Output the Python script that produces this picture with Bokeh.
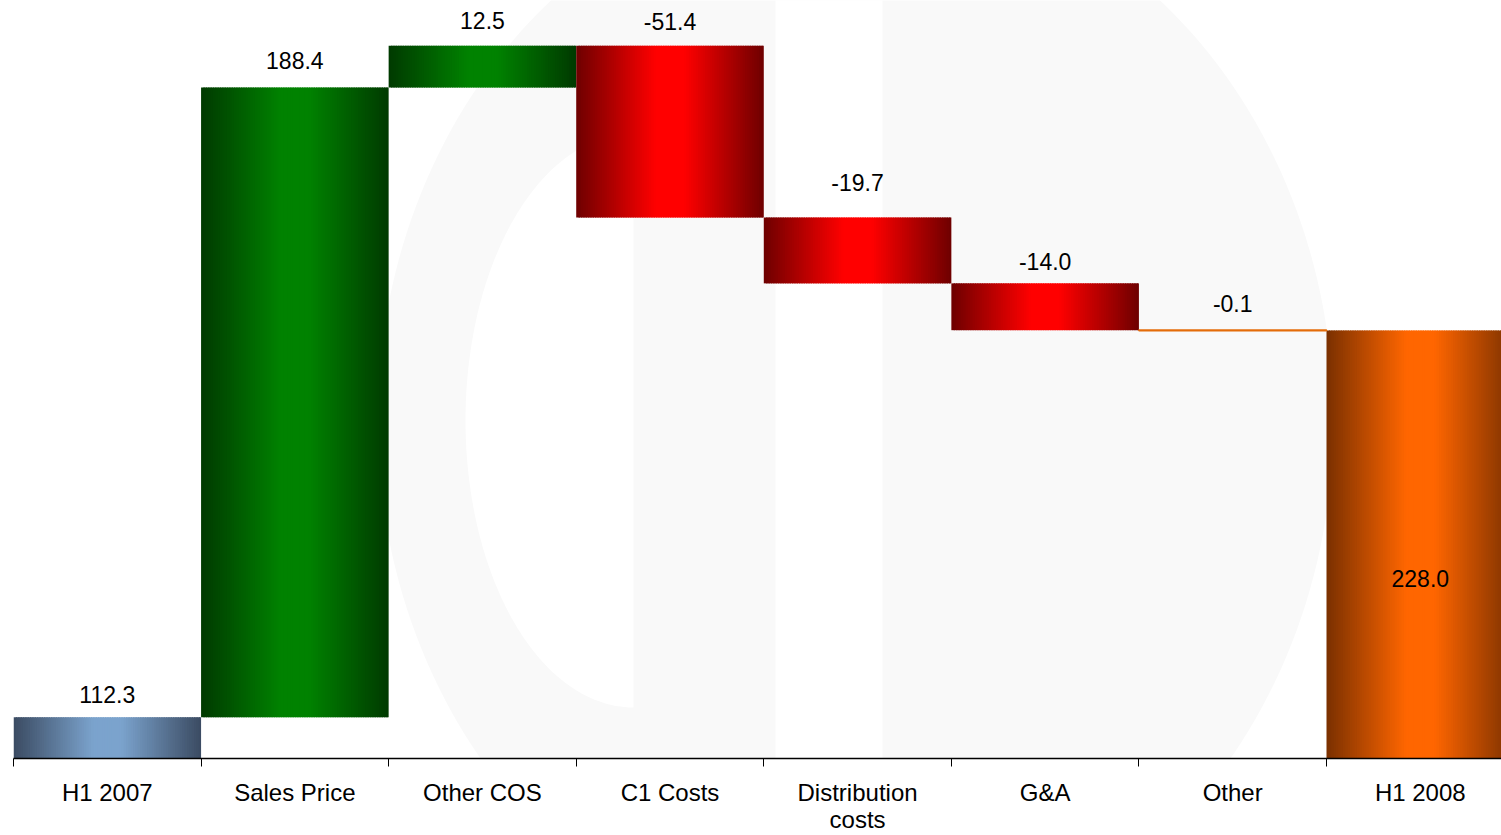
import numpy as np
from bokeh.plotting import figure
from bokeh.models import Range1d, FixedTicker, ColumnDataSource
from bokeh.core.properties import value
from bokeh.embed import file_html
from bokeh.resources import INLINE

# ---------------- data ----------------
categories = ["H1 2007", "Sales Price", "Other COS", "C1 Costs",
              "Distribution\ncosts", "G&A", "Other", "H1 2008"]
start_total = 112.3
changes = [188.4, 12.5, -51.4, -19.7, -14.0, -0.1]
end_total = 228.0
value_labels = ["112.3", "188.4", "12.5", "-51.4", "-19.7", "-14.0", "-0.1", "228.0"]

# ---------------- style ----------------
Y_MIN, Y_MAX = 100, 326.7
X_MIN, X_MAX = -0.5, 7.433
FRAME_L, FRAME_W, FRAME_H = 13, 1488, 758
label_gap_px = [23, 27, 25, 24, 35, 22, 27, -248]   # label centre above bar top (px)
grad = {
    "start": ("#3b4b62", "#7ba3cd"),
    "inc": ("#003a00", "#008200"),
    "dec": ("#6e0000", "#ff0000"),
    "end": ("#7a3000", "#ff6600"),
}
N_STRIPS = 80
FONT = "Liberation Sans"

# ---------------- bar geometry from data ----------------
kinds, bottoms, tops = [], [], []
kinds.append("start"); bottoms.append(0.0); tops.append(start_total)
running = start_total
for c in changes:
    kinds.append("inc" if c >= 0 else "dec")
    bottoms.append(min(running, running + c))
    tops.append(max(running, running + c))
    running += c
kinds.append("end"); bottoms.append(0.0); tops.append(end_total)
xs = list(range(len(categories)))


def hex2rgb(h):
    h = h.lstrip("#")
    return np.array([int(h[i:i + 2], 16) for i in (0, 2, 4)], dtype=float)


def mix(a, b, t):
    c = hex2rgb(a) * (1 - t) + hex2rgb(b) * t
    return "#%02x%02x%02x" % tuple(int(round(v)) for v in c)


L, R, T, B, C = [], [], [], [], []
w = 1.0
for x, k, b, t in zip(xs, kinds, bottoms, tops):
    edge, centre = grad[k]
    left = x - w / 2
    sw = w / N_STRIPS
    for i in range(N_STRIPS):
        pos = (i + 0.5) / N_STRIPS
        d = 1 - abs(pos - 0.5) * 2
        tt = min(1.0, d / 0.85)
        L.append(left + i * sw)
        R.append(left + (i + 1) * sw + (sw * 0.6 if i < N_STRIPS - 1 else 0))
        T.append(t)
        B.append(b)
        C.append(mix(edge, centre, tt))
strips = ColumnDataSource(dict(left=L, right=R, top=T, bottom=B, color=C))

p = figure(width=1501, height=835, x_range=Range1d(X_MIN, X_MAX), y_range=Range1d(Y_MIN, Y_MAX),
           output_backend="svg", toolbar_location=None, y_axis_location=None,
           min_border_left=FRAME_L, min_border_right=0, min_border_top=0, min_border_bottom=77)
p.grid.visible = False
p.outline_line_color = None
p.background_fill_color = "white"
p.border_fill_color = "white"


# ---------------- faint watermark ----------------
def px2x(px):
    return X_MIN + (px - FRAME_L) / FRAME_W * (X_MAX - X_MIN)


def py2y(py):
    return Y_MAX - py / FRAME_H * (Y_MAX - Y_MIN)


ang = np.linspace(0, 2 * np.pi, 240)
circ_x = [px2x(v) for v in 855 + 478 * np.cos(ang)]
circ_y = [py2y(v) for v in 420 + 545 * np.sin(ang)]
ang2 = np.linspace(np.pi / 2, 3 * np.pi / 2, 120)
half_x = [px2x(v) for v in 633 + 168 * np.cos(ang2)]
half_y = [py2y(v) for v in 420 + 287 * np.sin(ang2)]
p.patch(circ_x, circ_y, fill_color="#f9f9f9", line_color=None)
p.patch(half_x, half_y, fill_color="#ffffff", line_color=None)
p.quad(left=[px2x(775)], right=[px2x(882)], top=[Y_MAX + 50], bottom=[Y_MIN - 50],
       fill_color="#ffffff", line_color=None)

# ---------------- bars ----------------
p.quad(left="left", right="right", top="top", bottom="bottom", fill_color="color",
       line_color=None, source=strips)

tiny = [i for i, (b, t) in enumerate(zip(bottoms, tops)) if (t - b) < 0.5]
p.quad(left=[xs[i] - w / 2 for i in tiny], right=[xs[i] + w / 2 for i in tiny],
       top=[tops[i] for i in tiny], bottom=[bottoms[i] for i in tiny],
       fill_color=None, line_color="#e46c0a", line_width=2)

# ---------------- value labels ----------------
p.text(x=xs, y=tops, text=value_labels, y_offset=[-g for g in label_gap_px],
       text_font=value(FONT), text_font_size="23px", text_align="center",
       text_baseline="middle", text_color="#000000")

# ---------------- axis ----------------
ax = p.xaxis[0]
ax.ticker = FixedTicker(ticks=xs, minor_ticks=[x - 0.5 for x in xs])
ax.major_label_overrides = {x: c for x, c in zip(xs, categories)}
ax.major_tick_line_color = None
ax.major_tick_in = 0
ax.major_tick_out = 0
ax.minor_tick_line_color = "#000000"
ax.minor_tick_in = 0
ax.minor_tick_out = 8
ax.axis_line_color = "#000000"
ax.axis_line_width = 1.5
ax.major_label_text_font = FONT
ax.major_label_text_font_size = "24px"
ax.major_label_text_line_height = 1.0
ax.major_label_text_color = "#000000"
ax.major_label_standoff = 12

open("out.html", "w").write(file_html(p, INLINE))
